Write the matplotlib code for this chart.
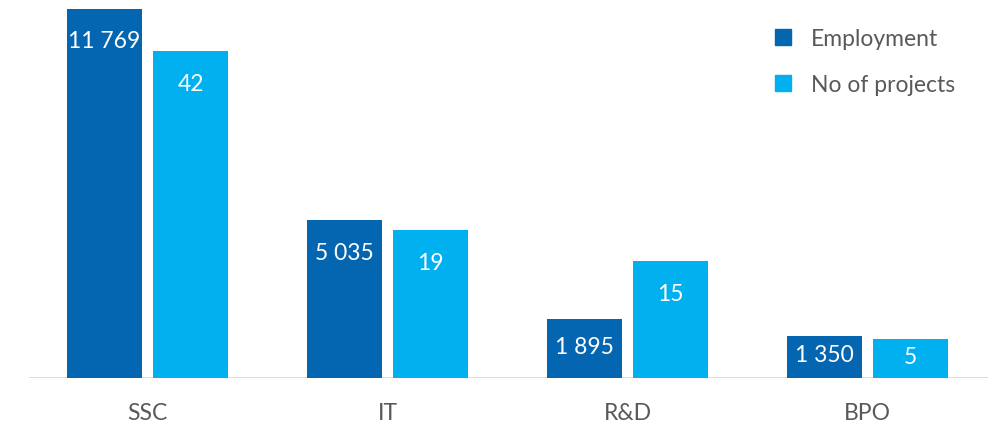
import numpy as np
import matplotlib
matplotlib.use('Agg')
import matplotlib.pyplot as plt
from matplotlib.patches import Patch

plt.rcParams['font.family'] = ['Lato', 'DejaVu Sans']

categories = ['SSC', 'IT', 'R&D', 'BPO']
employment = [11769, 5035, 1895, 1350]
projects = [42, 19, 15, 5]
series_names = ['Employment', 'No of projects']

dark = '#0465B0'
light = '#00B0EF'
grey_text = '#595959'
fs = 16.5

def fmt(v):
    return '{:,}'.format(v).replace(',', ' ')

fig = plt.figure(figsize=(9.88, 4.27), dpi=100)
ax = fig.add_axes([29 / 988, 1 - 379 / 427, 1 - 29 / 988, 379 / 427])
ax2 = ax.twinx()

x = np.arange(len(categories))
w = 75 / 240
off = 43 / 240

ax.bar(x - off, employment, width=w, color=dark, zorder=3)
ax2.bar(x + off, projects, width=w, color=light, zorder=3)

ax.set_xlim(-0.494, 3.502)
ax.set_ylim(0, 11769 * 379 / (379 - 9.5))
ax2.set_ylim(0, 42 * 379 / (379 - 52))
ax.axhline(0, color='#d9d9d9', lw=2, zorder=2)

for a in (ax, ax2):
    for s in a.spines.values():
        s.set_visible(False)
    a.set_yticks([])
    a.tick_params(length=0)

ax.set_xticks(x)
ax.set_xticklabels(categories, fontsize=fs, color=grey_text)
ax.tick_params(axis='x', pad=17)

# value labels inside the bars
px_per_unit1 = 379 / ax.get_ylim()[1]
px_per_unit2 = 379 / ax2.get_ylim()[1]
for a, vals, xs, ppu in ((ax, employment, x - off, px_per_unit1),
                        (ax2, projects, x + off, px_per_unit2)):
    for xi, v in zip(xs, vals):
        h = v * ppu
        if h > 64:
            a.annotate(fmt(v), (xi, v), xytext=(0, -32.5 * 0.72), textcoords='offset points',
                       ha='center', va='center', color='white', fontsize=fs, zorder=4)
        else:
            a.annotate(fmt(v), (xi, v / 2), xytext=(0, 1.5), textcoords='offset points',
                       ha='center', va='center', color='white', fontsize=fs, zorder=4)

handles = [Patch(color=dark), Patch(color=light)]
leg = fig.legend(handles, series_names, loc='upper left',
                 bbox_to_anchor=(775 / 988, 1 - 29 / 427), bbox_transform=fig.transFigure,
                 frameon=False, fontsize=fs, handlelength=0.68, handleheight=0.68,
                 handletextpad=0.9, labelspacing=1.08, borderpad=0, borderaxespad=0)
for t in leg.get_texts():
    t.set_color(grey_text)

fig.savefig('out.png', dpi=100)
